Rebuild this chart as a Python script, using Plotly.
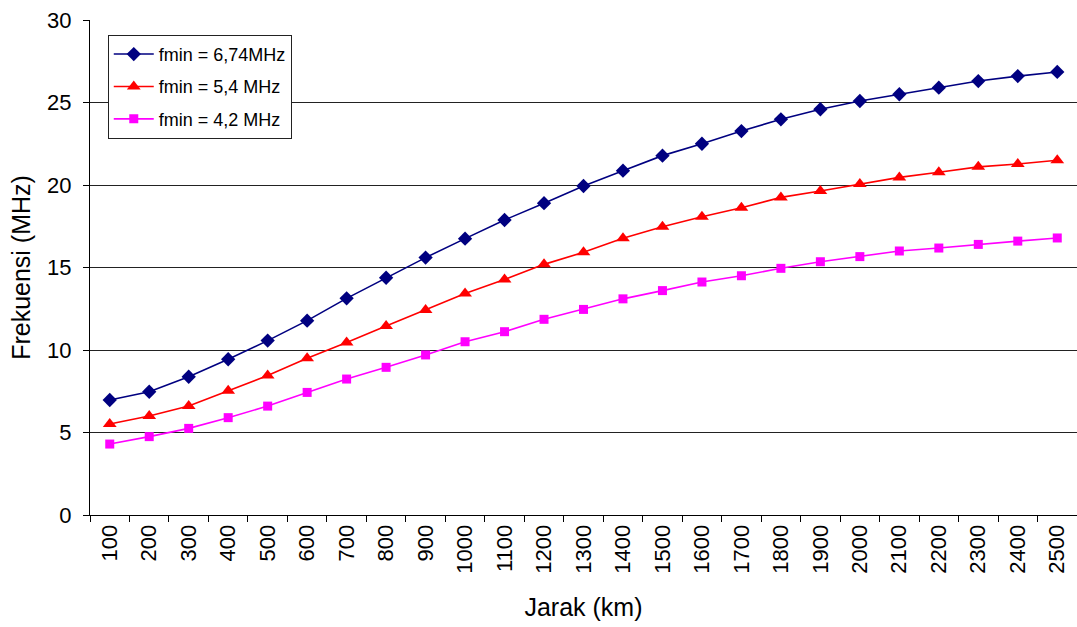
import plotly.graph_objects as go

# Distance categories (km)
jarak = [100, 200, 300, 400, 500, 600, 700, 800, 900, 1000, 1100, 1200, 1300,
         1400, 1500, 1600, 1700, 1800, 1900, 2000, 2100, 2200, 2300, 2400, 2500]
jarak_labels = [str(v) for v in jarak]

# Frequency (MHz) for each fmin
f_674 = [6.97, 7.47, 8.38, 9.44, 10.57, 11.78, 13.13, 14.38, 15.6, 16.75, 17.88, 18.9,
         19.94, 20.87, 21.78, 22.5, 23.27, 23.98, 24.59, 25.09, 25.5, 25.9, 26.3, 26.6, 26.85]
f_54 = [5.52, 6.0, 6.6, 7.53, 8.45, 9.5, 10.45, 11.45, 12.42, 13.43, 14.28, 15.19,
        15.92, 16.77, 17.47, 18.08, 18.62, 19.25, 19.64, 20.06, 20.46, 20.77, 21.1, 21.27, 21.5]
f_42 = [4.3, 4.75, 5.25, 5.9, 6.6, 7.43, 8.24, 8.95, 9.7, 10.5, 11.11, 11.86,
        12.46, 13.1, 13.6, 14.12, 14.5, 14.95, 15.35, 15.66, 16.0, 16.18, 16.4, 16.6, 16.79]

series = [
    ("fmin = 6,74MHz", f_674, "#000080", "diamond", 11),
    ("fmin = 5,4 MHz", f_54, "#FF0000", "triangle-up", 12),
    ("fmin = 4,2 MHz", f_42, "#FF00FF", "square", 9),
]

fig = go.Figure()
for i, (name, vals, color, symbol, size) in enumerate(series):
    fig.add_trace(go.Scatter(
        x=jarak_labels, y=vals, name=name, mode="lines+markers",
        legendgroup=f"g{i}",
        line=dict(color=color, width=1.6),
        marker=dict(symbol=symbol, size=size, color=color, line=dict(width=0)),
    ))

font_family = "Liberation Sans, Arial, sans-serif"

fig.update_layout(
    width=1077, height=627,
    margin=dict(l=90, r=0, t=20, b=112),
    paper_bgcolor="white", plot_bgcolor="white",
    font=dict(family=font_family, color="black"),
    showlegend=True,
    legend=dict(
        x=0.018, y=0.97, xanchor="left", yanchor="top",
        bgcolor="white", bordercolor="#222", borderwidth=1,
        font=dict(size=18, family=font_family),
        tracegroupgap=6,
        itemwidth=40,
    ),
    xaxis=dict(
        type="category",
        range=[-0.5, len(jarak) - 0.5],
        tickmode="array", tickvals=jarak_labels, ticktext=jarak_labels,
        tickangle=-90,
        tickfont=dict(size=22),
        ticks="outside", ticklen=6, tickcolor="black", tickson="boundaries",
        showline=True, linecolor="black", linewidth=1,
        showgrid=False, zeroline=False,
        title=dict(text="Jarak (km)", font=dict(size=25), standoff=25),
    ),
    yaxis=dict(
        range=[0, 30], tickvals=[0, 5, 10, 15, 20, 25, 30],
        tickfont=dict(size=22),
        ticks="outside", ticklen=6, tickcolor="black",
        ticklabelstandoff=7,
        showline=True, linecolor="black", linewidth=1,
        showgrid=True, gridcolor="#222222", gridwidth=1,
        zeroline=False,
        title=dict(text="Frekuensi (MHz)", font=dict(size=25), standoff=9),
    ),
)

fig.write_html("out.html")
